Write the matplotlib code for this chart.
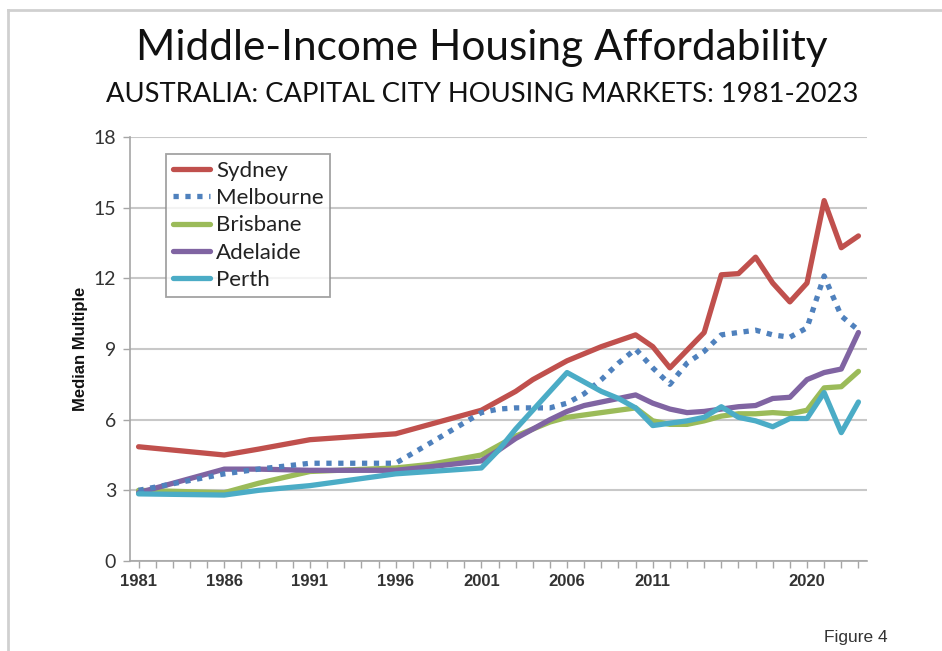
import matplotlib
matplotlib.use("Agg")
import matplotlib.pyplot as plt
from matplotlib.lines import Line2D

# years where the lines have readable vertices
years = [1981, 1986, 1988, 1991, 1996, 1998, 2001, 2002, 2003, 2004, 2005, 2006,
         2007, 2008, 2009, 2010, 2011, 2012, 2013, 2014, 2015, 2016, 2017, 2018,
         2019, 2020, 2021, 2022, 2023]

sydney = [4.85, 4.5, 4.75, 5.15, 5.4, 5.8, 6.4, 6.8, 7.2, 7.7, 8.1, 8.5,
          8.8, 9.1, 9.35, 9.6, 9.1, 8.2, 8.95, 9.7, 12.15, 12.2, 12.9, 11.8,
          11.0, 11.8, 15.3, 13.3, 13.8]
melbourne = [3.0, 3.7, 3.9, 4.15, 4.15, 5.0, 6.3, 6.45, 6.5, 6.5, 6.5, 6.7,
             7.1, 7.7, 8.4, 9.0, 8.2, 7.5, 8.4, 8.9, 9.6, 9.7, 9.8, 9.6,
             9.5, 9.9, 12.1, 10.4, 9.8]
brisbane = [3.0, 2.9, 3.3, 3.8, 3.95, 4.1, 4.5, 4.9, 5.3, 5.6, 5.9, 6.1,
            6.2, 6.3, 6.4, 6.5, 5.95, 5.8, 5.8, 5.95, 6.15, 6.25, 6.25, 6.3,
            6.25, 6.4, 7.35, 7.4, 8.05]
adelaide = [2.9, 3.9, 3.9, 3.85, 3.85, 4.0, 4.25, 4.7, 5.2, 5.6, 6.0, 6.35,
            6.6, 6.75, 6.9, 7.05, 6.7, 6.45, 6.3, 6.35, 6.45, 6.55, 6.6, 6.9,
            6.95, 7.7, 8.0, 8.15, 9.7]
perth = [2.85, 2.8, 3.0, 3.2, 3.7, 3.8, 3.95, 4.7, 5.6, 6.4, 7.2, 8.0,
         7.6, 7.2, 6.9, 6.5, 5.75, 5.85, 5.95, 6.1, 6.55, 6.1, 5.95, 5.7,
         6.05, 6.05, 7.15, 5.45, 6.75]

tick_years = [1981, 1986, 1991, 1996, 2001, 2006, 2011, 2020]
y_ticks = [0, 3, 6, 9, 12, 15, 18]

fig = plt.figure(figsize=(9.42, 6.51), dpi=100)
ax = fig.add_axes([130 / 942, 90 / 651, 737 / 942, 424 / 651])

lw = 3.8
ax.plot(years, sydney, color="#C0504D", lw=lw, label="Sydney", solid_capstyle="round", zorder=3)
ax.plot(years, melbourne, color="#4F81BD", lw=lw, ls=(0, (1.0, 1.25)), dash_capstyle="butt",
        label="Melbourne", zorder=3)
ax.plot(years, brisbane, color="#9BBB59", lw=lw, label="Brisbane", solid_capstyle="round", zorder=2)
ax.plot(years, adelaide, color="#8064A2", lw=lw, label="Adelaide", solid_capstyle="round", zorder=2)
ax.plot(years, perth, color="#4BACC6", lw=lw, label="Perth", solid_capstyle="round", zorder=3)

ax.set_xlim(1980.5, 2023.5)
ax.set_ylim(0, 18)
ax.set_yticks(y_ticks)
ax.set_xticks(tick_years)
ax.set_xticks(range(1981, 2024), minor=True)
ax.set_xticklabels([str(y) for y in tick_years], fontfamily="Liberation Sans",
                   fontweight="bold", fontsize=12, color="#333333")
ax.set_yticklabels([str(v) for v in y_ticks], fontfamily="Lato", fontsize=14, color="#333333")
ax.tick_params(axis="y", length=5, width=1, color="#A6A6A6", pad=5)
ax.tick_params(axis="x", which="both", length=5, width=1, color="#A6A6A6", pad=4)

ax.grid(axis="y", color="#C8C8C8", lw=1.5)
ax.set_axisbelow(True)
for s in ("top", "right"):
    ax.spines[s].set_visible(False)
for s in ("left", "bottom"):
    ax.spines[s].set_color("#A6A6A6")
    ax.spines[s].set_linewidth(1.2)

ax.set_ylabel("Median Multiple", fontfamily="Liberation Sans", fontweight="bold",
              fontsize=12, color="#111111", labelpad=4)

leg = ax.legend(loc="upper left", bbox_to_anchor=(166 / 942, 1 - 154 / 651),
                bbox_transform=fig.transFigure, prop={"family": "Lato", "size": 16},
                frameon=True, fancybox=False, edgecolor="#8C8C8C", handlelength=1.7,
                handletextpad=0.25, labelspacing=0.33, borderpad=0.3, borderaxespad=0)
leg.get_frame().set_linewidth(1.3)
for t in leg.get_texts():
    t.set_color("#222222")

fig.text(482 / 942, 1 - 60 / 651, "Middle-Income Housing Affordability", ha="center",
         va="baseline", fontfamily="Lato", fontsize=30.5, color="#111111")
fig.text(482 / 942, 1 - 102 / 651, "AUSTRALIA: CAPITAL CITY HOUSING MARKETS: 1981-2023",
         ha="center", va="baseline", fontfamily="Lato", fontsize=19.7, color="#111111")
fig.text(888 / 942, 1 - 642 / 651, "Figure 4", ha="right", va="baseline",
         fontfamily="Liberation Sans", fontsize=12.5, color="#333333")

# outer frame (top and left edges visible in the reference)
fig.add_artist(Line2D([8 / 942, 8 / 942], [0, 1 - 10 / 651], transform=fig.transFigure,
                      color="#D0D0D0", lw=2))
fig.add_artist(Line2D([8 / 942, 1], [1 - 10 / 651, 1 - 10 / 651], transform=fig.transFigure,
                      color="#D0D0D0", lw=2))

fig.savefig("out.png", dpi=100)
